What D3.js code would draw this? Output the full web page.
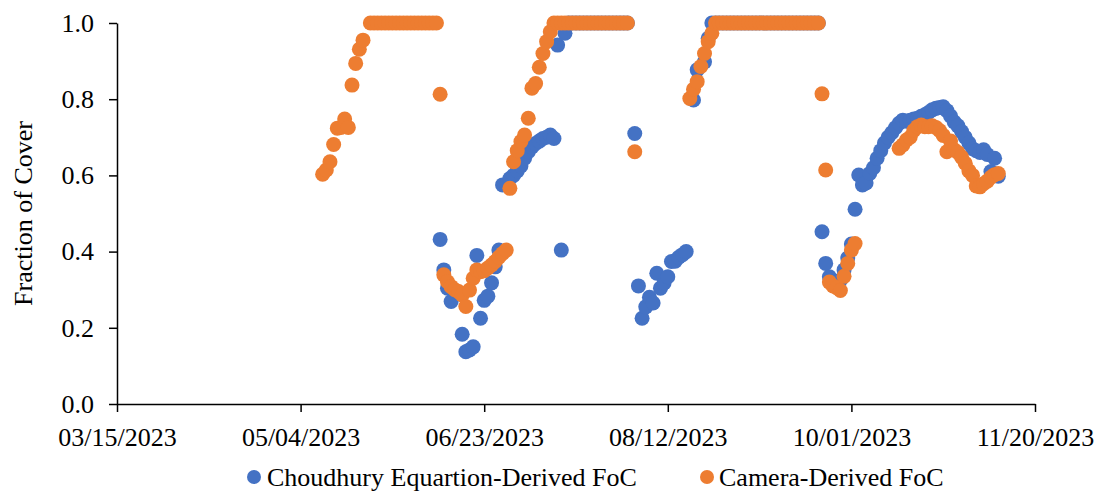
<!DOCTYPE html>
<html>
<head>
<meta charset="utf-8">
<script src="https://cdn.jsdelivr.net/npm/d3@7"></script>
<style>
  html, body { margin: 0; padding: 0; background: #ffffff; }
  svg { display: block; }
  text { font-family: "Liberation Serif", "Times New Roman", serif; fill: #000; }
</style>
</head>
<body>
<svg id="chart" width="1102" height="493"></svg>
<script>
// Year of the observations; dates below are month-day strings.
const year = 2023;

// Axis ticks
const xTickLabels = ["03/15/2023", "05/04/2023", "06/23/2023", "08/12/2023", "10/01/2023", "11/20/2023"];
const yTickValues = [0, 0.2, 0.4, 0.6, 0.8, 1.0];

// Series names
const seriesNames = ["Choudhury Equartion-Derived FoC", "Camera-Derived FoC"];

// Choudhury equation-derived fraction of cover
const eqDates = [
  "06-11","06-12","06-13","06-14","06-17","06-18","06-19","06-20","06-21","06-22","06-23","06-24","06-25","06-26","06-27","06-28","06-30",
  "07-01","07-02","07-03","07-04","07-05","07-06","07-07","07-08","07-09","07-10","07-11","07-12","07-13","07-14","07-15",
  "07-16","07-17","07-18","07-19","07-20","07-21","07-22","07-23","07-24","07-25","07-26","07-27","07-28","07-29","07-30","07-31",
  "08-01","08-03","08-04","08-05","08-06","08-07","08-08","08-09","08-10","08-11","08-12","08-13","08-14","08-15","08-16","08-17",
  "08-19","08-20","08-22","08-23","08-24","08-25","08-26","08-27","08-28","08-29","08-30","08-31",
  "09-01","09-02","09-03","09-04","09-05","09-06","09-07","09-08","09-09","09-10","09-11","09-12","09-13","09-14","09-15","09-16",
  "09-17","09-18","09-19","09-20","09-21","09-22","09-23","09-24","09-25","09-26","09-27","09-28","09-29","09-30",
  "10-01","10-02","10-03","10-04","10-05","10-06","10-07","10-08","10-09","10-10","10-11","10-12","10-13","10-14","10-15","10-16",
  "10-17","10-18","10-19","10-20","10-21","10-22","10-23","10-24","10-25","10-26","10-27","10-28","10-29","10-30","10-31",
  "11-01","11-02","11-03","11-04","11-05","11-06","11-07","11-08","11-09","11-10"
];
const eqValues = [
  0.432,0.352,0.304,0.269,0.183,0.137,0.142,0.150,0.390,0.225,0.272,0.283,0.318,0.360,0.404,0.575,0.592,
  0.600,0.612,0.625,0.645,0.662,0.675,0.684,0.690,0.697,0.700,0.706,0.697,0.942,0.404,0.973,
  1,1,1,1,1,1,1,1,1,1,1,1,1,1,1,1,
  1,0.710,0.310,0.225,0.255,0.280,0.265,0.343,0.304,0.318,0.334,0.374,0.375,0.385,0.392,0.400,
  0.798,0.877,0.898,0.960,1,1,1,1,1,1,1,1,
  1,1,1,1,1,1,1,1,1,1,1,1,1,1,1,1,
  1,1,1,1,1,1,0.452,0.369,0.334,0.320,0.310,0.325,0.352,0.383,
  0.420,0.511,0.601,0.575,0.580,0.605,0.620,0.645,0.665,0.685,0.700,0.712,0.725,0.737,0.745,0.742,
  0.745,0.748,0.750,0.755,0.759,0.765,0.772,0.776,0.778,0.780,0.770,0.756,0.740,0.730,0.715,
  0.700,0.685,0.670,0.665,0.660,0.667,0.655,0.610,0.645,0.598
];

// Camera-derived fraction of cover
const camDates = [
  "05-10","05-11","05-12","05-13","05-14","05-15","05-16","05-17","05-18","05-19","05-20","05-21",
  "05-23","05-24","05-25","05-26","05-27","05-28","05-29","05-30","05-31",
  "06-01","06-02","06-03","06-04","06-05","06-06","06-07","06-08","06-09","06-10","06-11",
  "06-12","06-13","06-14","06-15","06-16","06-17","06-18","06-19","06-20","06-21","06-22","06-23","06-24","06-25","06-26","06-27","06-28","06-29","06-30",
  "07-01","07-02","07-03","07-04","07-05","07-06","07-07","07-08","07-09","07-10","07-11",
  "07-12","07-13","07-14","07-15","07-16","07-17","07-18","07-19","07-20","07-21","07-22","07-23","07-24","07-25","07-26","07-27","07-28","07-29","07-30","07-31",
  "08-01","08-03","08-18","08-19","08-20","08-21","08-22","08-23","08-24","08-25","08-26","08-27","08-28","08-29","08-30","08-31",
  "09-01","09-02","09-03","09-04","09-05","09-06","09-07","09-08","09-09","09-10","09-11","09-12","09-13","09-14","09-15","09-16",
  "09-17","09-18","09-19","09-20","09-21","09-22","09-23","09-24","09-25","09-26","09-27","09-28","09-29","09-30",
  "10-01","10-02","10-14","10-15","10-16","10-17","10-18","10-19","10-20","10-21","10-22","10-23","10-24","10-25","10-26","10-27",
  "10-28","10-29","10-30","10-31",
  "11-01","11-02","11-03","11-04","11-05","11-06","11-07","11-08","11-09","11-10"
];
const camValues = [
  0.603,0.614,0.636,0.681,0.724,0.726,0.748,0.726,0.837,0.894,0.931,0.955,
  1,1,1,1,1,1,1,1,1,
  1,1,1,1,1,1,1,1,1,1,0.813,
  0.339,0.321,0.308,0.300,0.295,0.286,0.256,0.299,0.330,0.352,0.347,0.350,0.357,0.365,0.374,0.385,0.395,0.404,0.566,
  0.636,0.665,0.689,0.706,0.750,0.829,0.841,0.884,0.920,0.951,0.977,
  1,1,1,1,1,1,1,1,1,1,1,1,1,1,1,1,1,1,1,1,
  1,0.662,0.802,0.826,0.846,0.886,0.920,0.951,0.973,1,1,1,1,1,1,1,
  1,1,1,1,1,1,1,1,1,1,1,1,1,1,1,1,
  1,1,1,1,1,1,0.814,0.614,0.320,0.310,0.305,0.298,0.335,0.369,
  0.404,0.421,0.671,0.680,0.693,0.700,0.718,0.728,0.732,0.728,0.728,0.730,0.726,0.718,0.705,0.662,
  0.690,0.667,0.660,0.648,
  0.632,0.612,0.600,0.572,0.570,0.578,0.585,0.595,0.602,0.605
];

const seriesColors = ["#4472C4", "#ED7D31"];

const parseDay = d3.timeParse("%Y-%m-%d");
const parseTick = d3.timeParse("%m/%d/%Y");
const fmtTick = d3.timeFormat("%m/%d/%Y");

const toPoints = (dates, values) => dates.map((d, i) => ({ date: parseDay(year + "-" + d), value: values[i] }));
const series = [
  { name: seriesNames[0], color: seriesColors[0], points: toPoints(eqDates, eqValues) },
  { name: seriesNames[1], color: seriesColors[1], points: toPoints(camDates, camValues) }
];

const plot = { left: 117, right: 1035, top: 23, bottom: 404 };
const tickDates = xTickLabels.map(parseTick);

const x = d3.scaleTime()
  .domain([tickDates[0], tickDates[tickDates.length - 1]])
  .range([plot.left, plot.right]);
const y = d3.scaleLinear().domain([0, 1]).range([plot.bottom, plot.top]);

const svg = d3.select("#chart");
const fontSize = 26;

// Markers: equation series first, camera series drawn over it
series.forEach(s => {
  svg.append("g")
    .selectAll("circle")
    .data(s.points)
    .join("circle")
    .attr("cx", d => x(d.date))
    .attr("cy", d => y(d.value))
    .attr("r", 7.5)
    .attr("fill", s.color);
});

// X axis
const xAxis = svg.append("g")
  .attr("transform", `translate(0,${plot.bottom})`)
  .call(d3.axisBottom(x).tickValues(tickDates).tickFormat(fmtTick).tickSize(8).tickSizeOuter(0));
xAxis.select(".domain").attr("stroke", "#000").attr("stroke-width", 1.5);
xAxis.selectAll(".tick line").attr("stroke", "#000").attr("stroke-width", 1.5);
xAxis.selectAll(".tick text")
  .attr("y", 42).attr("dy", 0)
  .style("font-size", fontSize + "px")
  .style("font-family", "'Liberation Serif', 'Times New Roman', serif")
  .attr("fill", "#000");

// Y axis
const yAxis = svg.append("g")
  .attr("transform", `translate(${plot.left},0)`)
  .call(d3.axisLeft(y).tickValues(yTickValues).tickFormat(d3.format(".1f")).tickSize(8).tickPadding(15).tickSizeOuter(0));
yAxis.select(".domain").attr("stroke", "#000").attr("stroke-width", 1.5);
yAxis.selectAll(".tick line").attr("stroke", "#000").attr("stroke-width", 1.5);
yAxis.selectAll(".tick text")
  .style("font-size", fontSize + "px")
  .style("font-family", "'Liberation Serif', 'Times New Roman', serif")
  .attr("fill", "#000");

// Y axis title
svg.append("text")
  .attr("transform", `translate(32,${(plot.top + plot.bottom) / 2}) rotate(-90)`)
  .attr("text-anchor", "middle")
  .style("font-size", fontSize + "px")
  .text("Fraction of Cover");

// Legend
const legendItems = [
  { name: seriesNames[0], color: seriesColors[0], cx: 254, tx: 267 },
  { name: seriesNames[1], color: seriesColors[1], cx: 707, tx: 719 }
];
const legendY = 477;
legendItems.forEach(item => {
  svg.append("circle").attr("cx", item.cx).attr("cy", legendY).attr("r", 7).attr("fill", item.color);
  svg.append("text")
    .attr("x", item.tx).attr("y", legendY).attr("dy", "0.34em")
    .style("font-size", fontSize + "px")
    .text(item.name);
});
</script>
</body>
</html>
